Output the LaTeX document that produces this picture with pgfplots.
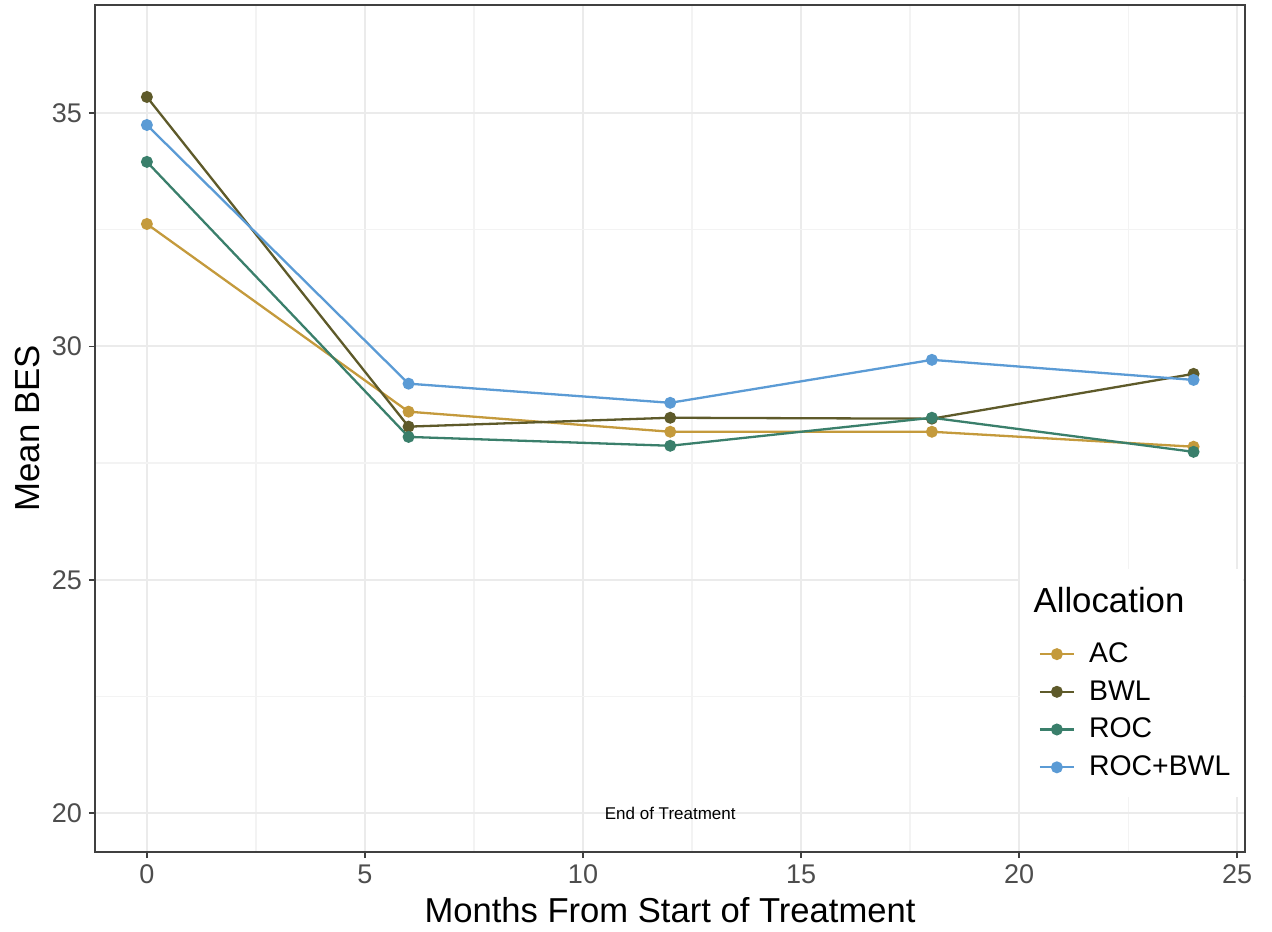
\documentclass[border=0pt]{standalone}
\usepackage{pgfplots}
\pgfplotsset{compat=1.18}
\usepackage{fontspec}
\setmainfont{Liberation Sans}
\definecolor{cAC}{HTML}{C49A3C}
\definecolor{cBWL}{HTML}{5E5A2A}
\definecolor{cROC}{HTML}{3A7F6B}
\definecolor{cRB}{HTML}{5B9BD5}
\definecolor{gridmaj}{HTML}{EBEBEB}
\definecolor{gridmin}{HTML}{F3F3F3}
\definecolor{ticklab}{HTML}{4D4D4D}
\begin{document}
\begin{tikzpicture}
\begin{axis}[
  name=ax,
  scale only axis,
  width=575pt, height=423.5pt,
  xmin=-1.19, xmax=25.18, ymin=19.17, ymax=37.31,
  xtick={0,5,10,15,20,25}, ytick={20,25,30,35},
  minor xtick={2.5,7.5,12.5,17.5,22.5},
  minor ytick={22.5,27.5,32.5},
  xtick pos=left, ytick pos=left,
  grid=both,
  major grid style={gridmaj, line width=0.9pt},
  minor grid style={gridmin, line width=0.6pt},
  axis line style={draw=black!75, line width=0.9pt},
  tick align=outside,
  major tick length=3pt, minor tick length=0pt,
  tick style={black!75, line width=0.8pt},
  every tick label/.append style={font=\fontsize{13.5}{13.5}\selectfont, text=ticklab},
  /pgf/number format/assume math mode=true,
  xlabel={Months From Start of Treatment},
  ylabel={Mean BES},
  xlabel style={font=\fontsize{17.3}{17.3}\selectfont, yshift=0pt},
  ylabel style={font=\fontsize{17.4}{17.4}\selectfont, yshift=-1pt},
  every axis plot/.append style={line width=1.15pt, mark=*, mark size=2.4pt},
  legend style={at={(rel axis cs:0.815,0.257)}, anchor=north west, draw=none, fill=none,
    font=\fontsize{14.2}{14.2}\selectfont, row sep=3.5pt},
  legend cell align=left,
]
\fill[white] (rel axis cs:0.804,0.065) rectangle (rel axis cs:0.998,0.334);
\node[anchor=west, font=\fontsize{17.4}{17.4}\selectfont] at (rel axis cs:0.81,0.298) {Allocation};
\addplot[color=cAC, mark options={fill=cAC}] coordinates {(0,32.62) (6,28.60) (12,28.17) (18,28.17) (24,27.85)};
\addlegendentry{\hspace{5pt}AC}
\addplot[color=cBWL, mark options={fill=cBWL}] coordinates {(0,35.34) (6,28.28) (12,28.47) (18,28.45) (24,29.41)};
\addlegendentry{\hspace{5pt}BWL}
\addplot[color=cROC, mark options={fill=cROC}] coordinates {(0,33.95) (6,28.06) (12,27.87) (18,28.47) (24,27.74)};
\addlegendentry{\hspace{5pt}ROC}
\addplot[color=cRB, mark options={fill=cRB}] coordinates {(0,34.74) (6,29.20) (12,28.79) (18,29.71) (24,29.28)};
\addlegendentry{\hspace{5pt}ROC+BWL}
\node[font=\fontsize{8.5}{8.5}\selectfont] at (axis cs:12,20) {End of Treatment};
\end{axis}
\pgfresetboundingbox
\path ([xshift=-47.5pt,yshift=-39.5pt]ax.south west) rectangle ([xshift=13.5pt,yshift=2.5pt]ax.north east);
\end{tikzpicture}
\end{document}
